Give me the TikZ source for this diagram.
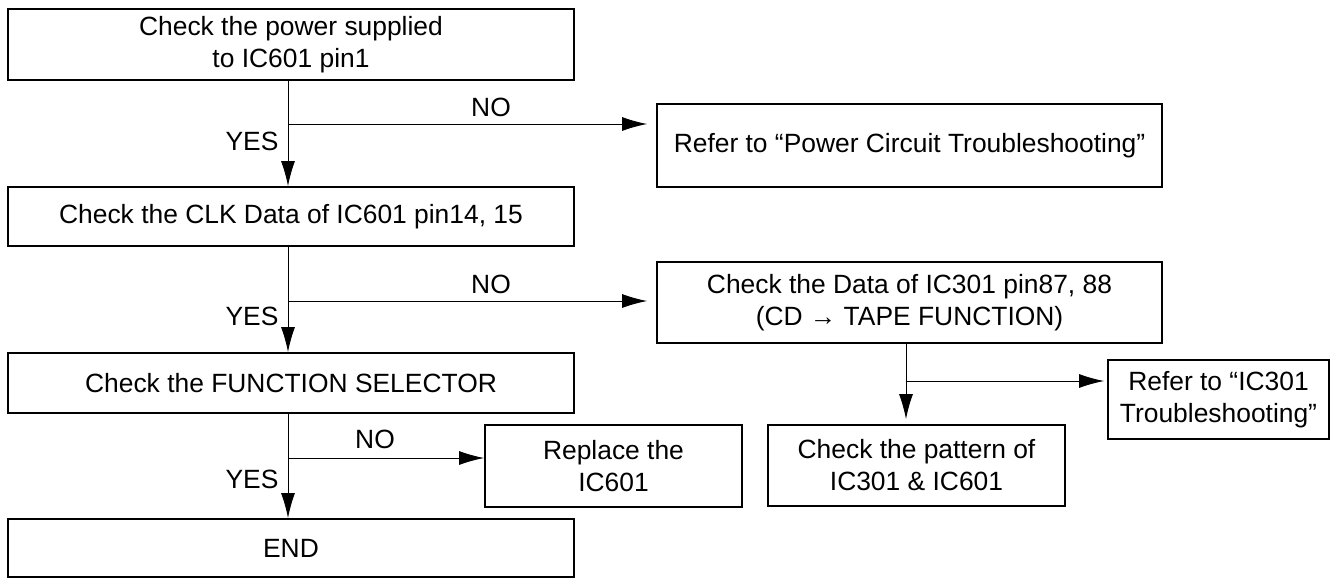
\documentclass[tikz,border=0pt]{standalone}
\usepackage{fontspec}
\setmainfont{Liberation Sans}
\usetikzlibrary{arrows.meta}
\tikzset{
	box/.style 2 args={draw, line width=0.9pt, inner sep=0pt, align=center,
		minimum width=#1*0.5pt, minimum height=#2*0.5pt},
	arr/.style={line width=0.45pt, -{Latex[length=12.5pt,width=7pt]}},
}
\begin{document}
\begin{tikzpicture}[x=0.5pt,y=-0.5pt,font=\fontsize{13.2}{16}\selectfont]
		\useasboundingbox (0,0) rectangle (1330,579);

		\node[box={566}{71}] (C1) at (291,44.5) {Check the power supplied\\to IC601 pin1};
		\node[box={505}{83}] (R1) at (909.5,145.5) {Refer to “Power Circuit Troubleshooting”};
		\node[box={566}{59}] (C2) at (291,216.5) {Check the CLK Data of IC601 pin14, 15};
		\node[box={505}{81}] (C3) at (909.5,302.5) {Check the Data of IC301 pin87, 88\\(CD → TAPE FUNCTION)};
		\node[box={566}{60}] (C4) at (291,383) {Check the FUNCTION SELECTOR};
		\node[box={221}{79}] (R2) at (1218.5,399.5) {Refer to “IC301\\Troubleshooting”};
		\node[box={257}{82}] (RP) at (613.5,466) {Replace the\\IC601};
		\node[box={297}{81}] (P) at (916.5,465.5) {Check the pattern of\\IC301 \& IC601};
		\node[box={566}{58}] (E) at (291,548) {END};

		% branch points
		\coordinate (b1) at (288,124);
		\coordinate (b2) at (288,301);
		\coordinate (b3) at (288,458);
		\coordinate (b4) at (906,381);

		\draw[arr] (C1.south -| b1) -- (C2.north -| b1);
		\draw[arr, shorten >=4.5pt] (b1) -- (b1 -| R1.west);
		\draw[arr] (C2.south -| b2) -- (C4.north -| b2);
		\draw[arr, shorten >=4.5pt] (b2) -- (b2 -| C3.west);
		\draw[arr] (C4.south -| b3) -- (E.north -| b3);
		\draw[arr] (b3) -- (b3 -| RP.west);
		\draw[arr, shorten >=2.5pt] (C3.south -| b4) -- (P.north -| b4);
		\draw[arr, shorten >=1.5pt] (b4) -- (b4 -| R2.west);

		\node (y1) at (252,141) {YES};
		\node (n1) at (491,107) {NO};
		\node (y2) at (252,316) {YES};
		\node (n2) at (491,284) {NO};
		\node (y3) at (252,479) {YES};
		\node (n3) at (375,439) {NO};
	\end{tikzpicture}
\end{document}
